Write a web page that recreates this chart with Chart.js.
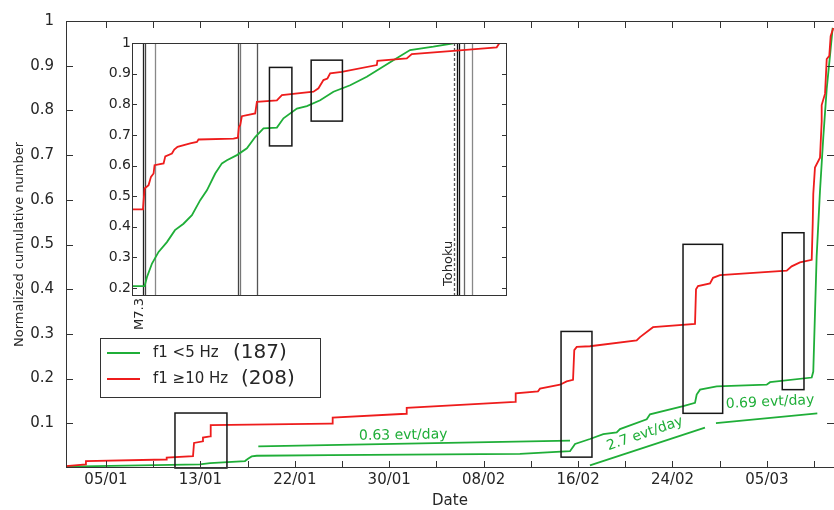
<!DOCTYPE html>
<html>
<head>
<meta charset="utf-8">
<script src="https://cdn.jsdelivr.net/npm/chart.js@4.4.1/dist/chart.umd.min.js"></script>
<style>
  body { margin: 0; background: #fff; }
  #wrap { position: relative; width: 834px; height: 510px; }
  #main { position: absolute; left: 0; top: 0; }
  #inset { position: absolute; left: 92px; top: 33px; }
</style>
</head>
<body>
<div id="wrap">
  <canvas id="main" width="834" height="510"></canvas>
  <canvas id="inset" width="420" height="300"></canvas>
</div>
<script>
// main panel: x = day of year 2011 (1 = 1 Jan), y = normalized cumulative number
const tickDays = [5.3, 13.73, 22.16, 30.59, 39.02, 47.45, 55.88, 64.31];
const tickLabels = ['05/01', '13/01', '22/01', '30/01', '08/02', '16/02', '24/02', '05/03'];

const seriesNames = ['f1 <5 Hz', 'f1 \u226510 Hz'];
const seriesCounts = [187, 208];

// f1 < 5 Hz
const lowDays = [1.73, 13.69, 14.59, 17.71, 17.98, 18.31, 18.76, 25.3, 42.26, 46.73, 47.18, 48.51, 49.7, 50.9, 51.19, 53.58,
  53.87, 56.84, 57.89, 58.04, 58.34, 59.83, 64.29, 64.59, 68.31, 68.45, 68.75, 69.05, 69.34, 69.65, 69.94, 70.18];
const lowVals = [0.003, 0.008, 0.011, 0.0155, 0.0208, 0.0258, 0.0274, 0.0287, 0.0318, 0.0375, 0.0539, 0.0649, 0.0759, 0.0795, 0.087, 0.109,
  0.12, 0.1384, 0.1457, 0.1642, 0.1753, 0.1826, 0.1863, 0.192, 0.2024, 0.2157, 0.4733, 0.6203, 0.7382, 0.8486, 0.922, 0.9845];

// f1 >= 10 Hz
const highDays = [1.73, 3.51, 3.51, 10.66, 10.72, 13.07, 13.16, 13.96, 13.96, 14.59, 14.65, 25.3, 25.54, 25.54, 32.09, 32.15,
  41.82, 41.88, 43.87, 44.05, 45.84, 46.43, 47.0, 47.11, 47.33, 48.51, 52.68, 52.98, 53.87, 54.14, 57.89, 57.98, 58.16,
  59.23, 59.5, 60.12, 66.08, 66.52, 67.26, 68.31, 68.4, 68.45, 68.6, 69.05, 69.2, 69.2, 69.5, 69.65, 69.88, 70.0, 70.24];
const highVals = [0.004, 0.008, 0.0155, 0.019, 0.023, 0.0265, 0.056, 0.0596, 0.068, 0.0706, 0.0958, 0.0993, 0.0993, 0.1126, 0.1214, 0.1347,
  0.1479, 0.1671, 0.1715, 0.1775, 0.1863, 0.1936, 0.1974, 0.2636, 0.2709, 0.2724, 0.2857, 0.2929, 0.3099, 0.315, 0.3223, 0.3996, 0.4071,
  0.4128, 0.4254, 0.4313, 0.4415, 0.4512, 0.46, 0.4658, 0.5468, 0.613, 0.672, 0.694, 0.775, 0.812, 0.8375, 0.915, 0.922, 0.966, 0.9845];

// rate lines for the low-frequency events
const rateNames = ['0.63 evt/day', '2.7 evt/day', '0.69 evt/day'];
const rateDays = [[18.9, 46.73], [48.51, 58.78], [59.76, 68.81]];
const rateVals = [[0.0486, 0.0611], [0.006, 0.0905], [0.1002, 0.1223]];
const rateLabelDays = [27.9, 53.43, 64.59];
const rateLabelVals = [0.063, 0.0766, 0.147];

// boxed bursts
const boxDays = [[11.46, 16.1], [45.93, 48.69], [56.82, 60.36], [65.68, 67.62]];
const boxVals = [[0, 0.123], [0.0243, 0.3055], [0.1223, 0.5004], [0.1753, 0.5263]];

// inset: x = hours after 9 March 00:00
const insetYTicks = [0.2, 0.3, 0.4, 0.5, 0.6, 0.7, 0.8, 0.9, 1];
const insetLowHours = [10.05, 12.01, 12.41, 13.23, 14.31, 15.68, 17.0, 18.4, 19.78, 21.14, 22.24, 23.6, 24.7, 25.52, 27.16, 28.8,
  30.16, 31.52, 33.72, 34.8, 37.0, 38.64, 40.82, 43.0, 45.74, 48.47, 50.65, 52.83, 55.57, 59.39, 62.67];
const insetLowVals = [0.206, 0.206, 0.236, 0.28, 0.318, 0.35, 0.389, 0.41, 0.438, 0.487, 0.519, 0.574, 0.607, 0.617, 0.634, 0.656,
  0.693, 0.721, 0.724, 0.754, 0.786, 0.794, 0.813, 0.841, 0.862, 0.89, 0.917, 0.944, 0.977, 0.988, 0.999];
const insetHighHours = [10.05, 11.75, 12.01, 12.67, 13.06, 13.49, 13.65, 15.13, 15.41, 16.5, 16.88, 17.42, 19.5, 20.6, 20.86, 26.6,
  27.32, 27.49, 27.7, 27.98, 30.16, 30.44, 33.72, 34.54, 39.72, 40.54, 41.36, 42.01, 42.46, 44.37, 50.11, 50.21, 55.03, 55.85,
  62.67, 69.78, 70.21];
const insetHighVals = [0.457, 0.457, 0.525, 0.536, 0.563, 0.574, 0.601, 0.607, 0.63, 0.639, 0.652, 0.661, 0.672, 0.677, 0.685, 0.688,
  0.691, 0.726, 0.732, 0.761, 0.77, 0.808, 0.813, 0.83, 0.841, 0.852, 0.879, 0.884, 0.901, 0.906, 0.928, 0.942, 0.95, 0.964,
  0.974, 0.986, 0.999];
const insetBoxHours = [[32.5, 36.18], [39.34, 44.47]];
const insetBoxVals = [[0.664, 0.9203], [0.745, 0.944]];
const eventHours = [11.75, 12.01, 13.65, 27.32, 27.7, 30.44, 62.78, 63.32, 63.65, 64.42, 65.68];
const eventNames = { 0: 'M7.3', 6: 'Tohoku' };

const GREEN = '#1fae38';
const RED = '#ee1c1c';
const INK = '#262626';
const FONT = '"DejaVu Sans", sans-serif';

function pts(xs, ys) { return xs.map((x, i) => ({ x: x, y: ys[i] })); }

function line(data, color) {
  return { data: data, borderColor: color, borderWidth: 1.8, pointRadius: 0, showLine: true, tension: 0, fill: false };
}

// frame with inward ticks (matplotlib look)
function drawFrame(chart, xt, yt, len, rightOff) {
  const { ctx, chartArea: a, scales: { x, y } } = chart;
  ctx.save();
  ctx.strokeStyle = '#333';
  ctx.lineWidth = 1;
  const r = rightOff ? a.right + 0.5 : a.right - 0.5;
  ctx.strokeRect(a.left + 0.5, a.top + 0.5, r - a.left - 0.5, a.height - 1);
  ctx.beginPath();
  xt.forEach(v => {
    const px = Math.round(x.getPixelForValue(v)) + 0.5;
    ctx.moveTo(px, a.bottom); ctx.lineTo(px, a.bottom - len);
    ctx.moveTo(px, a.top); ctx.lineTo(px, a.top + len);
  });
  yt.forEach(v => {
    const py = Math.round(y.getPixelForValue(v)) + 0.5;
    ctx.moveTo(a.left, py); ctx.lineTo(a.left + len, py);
    ctx.moveTo(a.right, py); ctx.lineTo(a.right - len, py);
  });
  ctx.stroke();
  ctx.restore();
}

function drawBoxes(chart, bx, by) {
  const { ctx, scales: { x, y } } = chart;
  ctx.save();
  ctx.strokeStyle = '#161616';
  ctx.lineWidth = 1.5;
  bx.forEach((d, i) => {
    const x0 = x.getPixelForValue(d[0]), x1 = x.getPixelForValue(d[1]);
    const y0 = y.getPixelForValue(by[i][0]), y1 = y.getPixelForValue(by[i][1]);
    ctx.strokeRect(x0, y1, x1 - x0, y0 - y1);
  });
  ctx.restore();
}

// tick marks every half interval
const xMarks = [];
tickDays.forEach((d, i) => {
  xMarks.push(d);
  const next = i < tickDays.length - 1 ? tickDays[i + 1] : d + (d - tickDays[i - 1]);
  xMarks.push((d + next) / 2);
});
const yMarks = [0.1, 0.2, 0.3, 0.4, 0.5, 0.6, 0.7, 0.8, 0.9];

const mainPlugin = {
  id: 'mainDeco',
  afterDatasetsDraw(chart) {
    const { ctx, scales: { x, y } } = chart;
    drawBoxes(chart, boxDays, boxVals);
    // rate labels
    const angles = [-1, -19, -2.7];
    const aligns = ['left', 'center', 'center'];
    ctx.save();
    ctx.fillStyle = GREEN;
    ctx.font = '14px ' + FONT;
    rateNames.forEach((t, i) => {
      ctx.save();
      ctx.translate(x.getPixelForValue(rateLabelDays[i]), y.getPixelForValue(rateLabelVals[i]));
      ctx.rotate(angles[i] * Math.PI / 180);
      ctx.textAlign = aligns[i];
      ctx.textBaseline = i === 0 ? 'alphabetic' : 'middle';
      ctx.fillText(t, 0, 0);
      ctx.restore();
    });
    ctx.restore();
    drawFrame(chart, xMarks, yMarks, 7, true);
    // legend
    ctx.save();
    ctx.fillStyle = '#fff';
    ctx.fillRect(100, 338, 220, 59);
    ctx.strokeStyle = '#333';
    ctx.lineWidth = 1;
    ctx.strokeRect(100.5, 338.5, 220, 59);
    const rows = [353, 379];
    const colors = [GREEN, RED];
    const countX = [233, 241];
    seriesNames.forEach((n, i) => {
      ctx.strokeStyle = colors[i];
      ctx.lineWidth = 1.8;
      ctx.beginPath();
      ctx.moveTo(107, rows[i]); ctx.lineTo(140, rows[i]);
      ctx.stroke();
      ctx.fillStyle = INK;
      ctx.textBaseline = 'middle';
      ctx.textAlign = 'left';
      ctx.font = '15px ' + FONT;
      ctx.fillText(n, 153, rows[i]);
      ctx.font = '20px ' + FONT;
      ctx.fillText('(' + seriesCounts[i] + ')', countX[i], rows[i]);
    });
    ctx.restore();
  }
};

new Chart(document.getElementById('main'), {
  type: 'scatter',
  data: {
    datasets: [
      line(pts(highDays, highVals), RED),
      line(pts(lowDays, lowVals), GREEN),
      ...rateDays.map((d, i) => line(pts(d, rateVals[i]), GREEN))
    ]
  },
  options: {
    responsive: false,
    animation: false,
    devicePixelRatio: 1,
    layout: { padding: { top: 15, right: 0, bottom: 0, left: 0 } },
    plugins: { legend: { display: false }, tooltip: { enabled: false } },
    scales: {
      x: {
        type: 'linear', min: 1.73, max: 70.3,
        grid: { display: false, drawTicks: false },
        border: { display: false },
        afterBuildTicks: s => { s.ticks = tickDays.map(v => ({ value: v })); },
        afterFit: s => { s.height = 42; },
        ticks: {
          padding: 3, color: INK, font: { family: FONT, size: 15 }, maxRotation: 0, autoSkip: false,
          callback: (v, i) => tickLabels[i]
        },
        title: { display: true, text: 'Date', color: INK, font: { family: FONT, size: 15 }, padding: { top: 0, bottom: 0 } }
      },
      y: {
        min: 0, max: 1,
        grid: { display: false, drawTicks: false },
        border: { display: false },
        afterBuildTicks: s => { s.ticks = [...yMarks, 1].map(v => ({ value: v })); },
        afterFit: s => { s.width = 66; },
        ticks: {
          padding: 12, color: INK, font: { family: FONT, size: 15 },
          callback: v => (v === 1 ? '1' : v.toFixed(1))
        },
        title: { display: true, text: 'Normalized cumulative number', color: INK, font: { family: FONT, size: 13 }, padding: { top: 12, bottom: 0 } }
      }
    }
  },
  plugins: [mainPlugin]
});

const insetPlugin = {
  id: 'insetDeco',
  beforeDatasetsDraw(chart) {
    const { ctx, chartArea: a, scales: { x } } = chart;
    const shades = ['#222', '#444', '#888', '#444', '#777', '#555', '#555', '#111', '#111', '#666', '#888'];
    ctx.save();
    eventHours.forEach((h, i) => {
      const px = Math.round(x.getPixelForValue(h)) + 0.5;
      ctx.strokeStyle = shades[i];
      ctx.lineWidth = 1.3;
      ctx.setLineDash(eventNames[i] === 'Tohoku' ? [3, 2] : []);
      ctx.beginPath();
      ctx.moveTo(px, a.top); ctx.lineTo(px, a.bottom);
      ctx.stroke();
    });
    ctx.restore();
  },
  afterDatasetsDraw(chart) {
    const { ctx, chartArea: a, scales: { x } } = chart;
    drawBoxes(chart, insetBoxHours, insetBoxVals);
    drawFrame(chart, [], insetYTicks.slice(0, -1), 5, false);
    ctx.save();
    ctx.fillStyle = INK;
    ctx.font = '13px ' + FONT;
    ctx.textBaseline = 'alphabetic';
    Object.keys(eventNames).forEach(k => {
      const px = x.getPixelForValue(eventHours[k]);
      ctx.save();
      if (eventNames[k] === 'M7.3') {
        ctx.translate(px + 0.5, a.bottom + 2);
        ctx.rotate(-Math.PI / 2);
        ctx.textAlign = 'right';
      } else {
        ctx.translate(px - 2, a.bottom - 10);
        ctx.rotate(-Math.PI / 2);
        ctx.textAlign = 'left';
      }
      ctx.fillText(eventNames[k], 0, 0);
      ctx.restore();
    });
    ctx.restore();
  }
};

new Chart(document.getElementById('inset'), {
  type: 'scatter',
  data: {
    datasets: [
      line(pts(insetHighHours, insetHighVals), RED),
      line(pts(insetLowHours, insetLowVals), GREEN)
    ]
  },
  options: {
    responsive: false,
    animation: false,
    devicePixelRatio: 1,
    layout: { padding: { top: 10, right: 5, bottom: 0, left: 0 } },
    plugins: { legend: { display: false }, tooltip: { enabled: false } },
    scales: {
      x: {
        type: 'linear', min: 9.95, max: 71.47,
        grid: { display: false, drawTicks: false },
        border: { display: false },
        ticks: { display: false },
        afterFit: s => { s.height = 37; }
      },
      y: {
        min: 0.174, max: 1,
        grid: { display: false, drawTicks: false },
        border: { display: false },
        afterBuildTicks: s => { s.ticks = insetYTicks.map(v => ({ value: v })); },
        afterFit: s => { s.width = 40; },
        ticks: {
          padding: 1, color: INK, font: { family: FONT, size: 14 },
          callback: v => (v === 1 ? '1' : v.toFixed(1))
        }
      }
    }
  },
  plugins: [insetPlugin]
});
</script>
</body>
</html>
